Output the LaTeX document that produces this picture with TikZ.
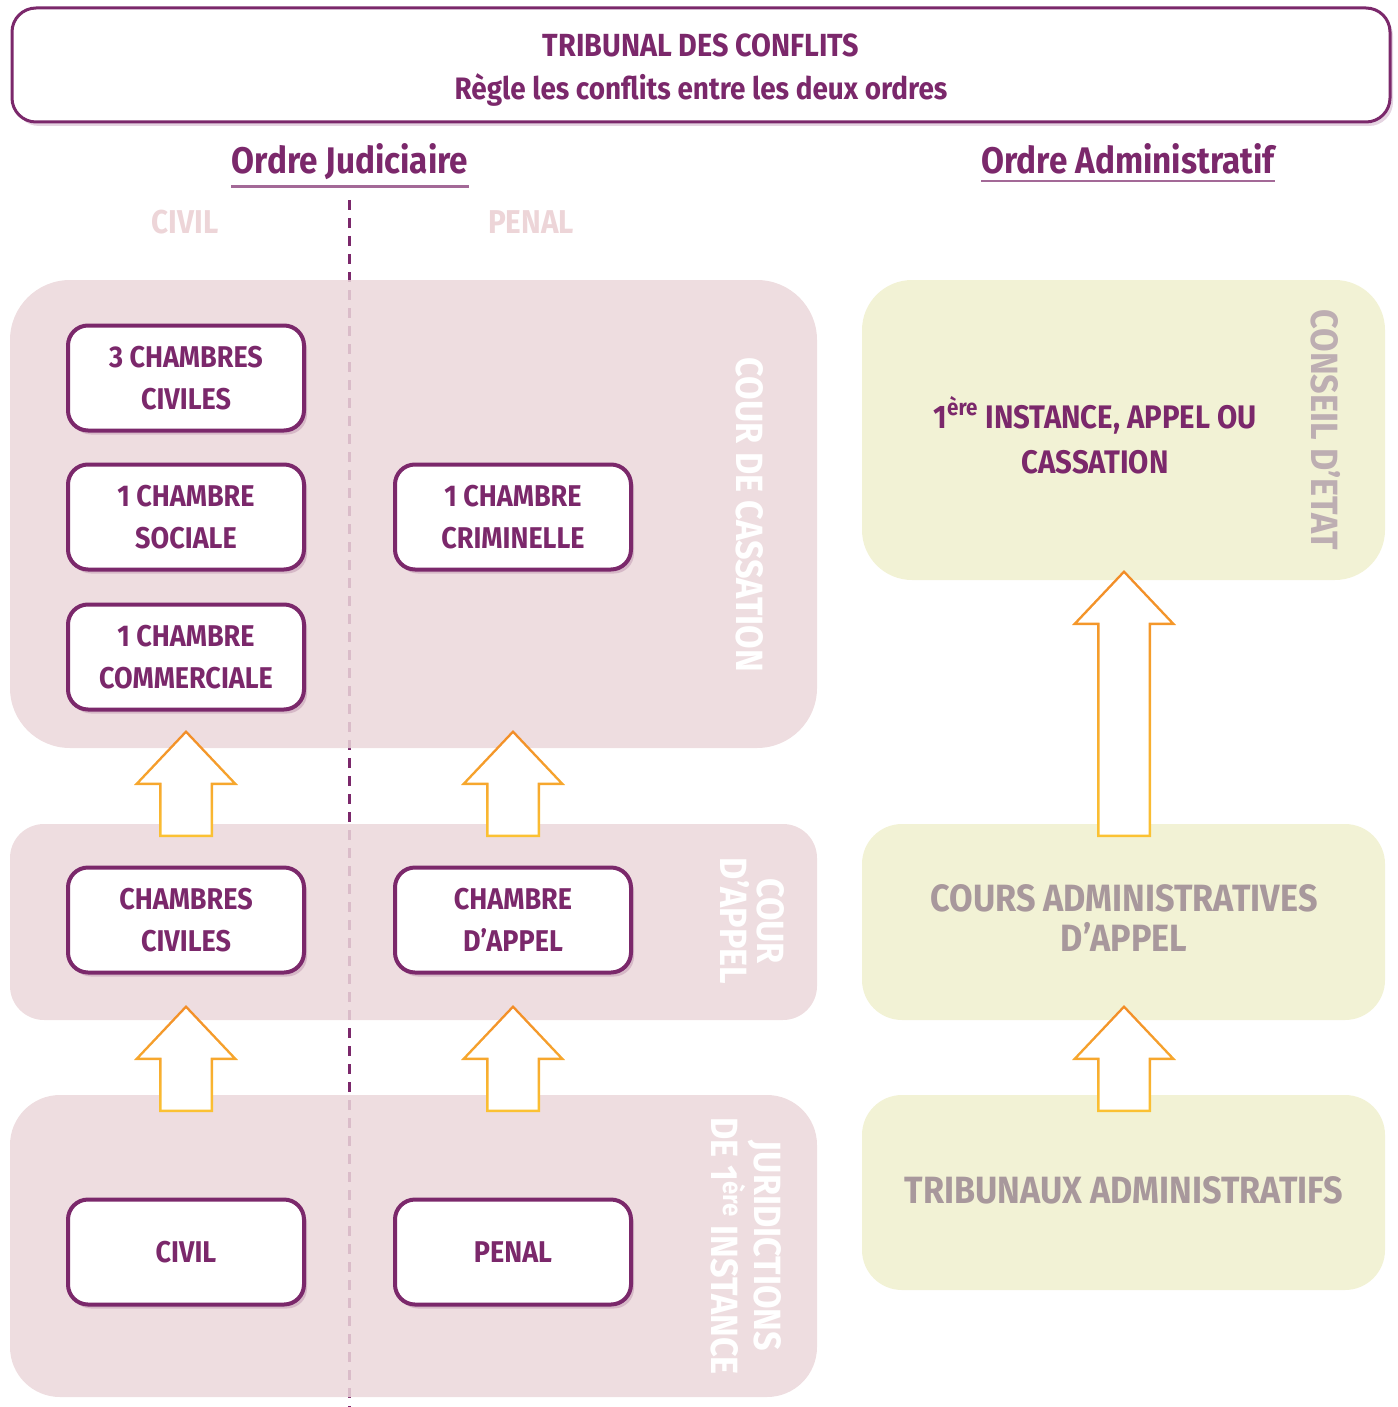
\documentclass[tikz,border=0pt]{standalone}
\usepackage{fontspec}
\setmainfont{Fira Sans}[FakeStretch=0.9]
\usepackage{tikz}
\usetikzlibrary{calc,shadows}
\newcommand\U{0.5pt}
\definecolor{prune}{HTML}{7B286B}
\definecolor{rose}{HTML}{EBD7DA}
\definecolor{rosepale}{HTML}{EDD5D8}
\definecolor{tilleul}{HTML}{F0F0CE}
\definecolor{mauve}{HTML}{A8989C}
\definecolor{mauvepale}{HTML}{BDAEB2}
\definecolor{orangef}{HTML}{F28C28}
\definecolor{jaune}{HTML}{FBC233}

% block arrow from bottom coordinate #1 up to tip #2
\newcommand\blockarrow[2]{%
  \shade[top color=orangef,bottom color=jaune] ($(#1)+(-27,0)$) -- ($(#2)+(-27,55)$) -- ($(#2)+(-52,55)$) -- (#2)
    -- ($(#2)+(52,55)$) -- ($(#2)+(27,55)$) -- ($(#1)+(27,0)$) -- cycle;
  \fill[white] ($(#1)+(-24.5,-2.5)$) -- ($(#2)+(-24.5,52.5)$) -- ($(#2)+(-46.2,52.5)$) -- ($(#2)+(0,3.6)$)
    -- ($(#2)+(46.2,52.5)$) -- ($(#2)+(24.5,52.5)$) -- ($(#1)+(24.5,-2.5)$) -- cycle;}

\begin{document}
\begin{tikzpicture}[x=\U,y=-\U,inner sep=0pt]

  \tikzstyle{panel}=[rectangle,fill opacity=.85,inner sep=0pt]
  \tikzstyle{chambre}=[rectangle,draw=prune,line width=2pt,fill=white,rounded corners=10pt,
    minimum width=236*\U,minimum height=105*\U,align=center,text=prune,
    font=\bfseries\fontsize{15}{21}\selectfont,
    drop shadow={opacity=.2,fill=prune,shadow xshift=1.5pt,shadow yshift=-2pt}]
  \tikzstyle{vlabel}=[rotate=-90,text=white,align=center,font=\bfseries\fontsize{19}{18.5}\selectfont]
  \tikzstyle{ordre}=[text=prune,font=\bfseries\fontsize{18.5}{20}\selectfont]
  \tikzstyle{colonne}=[text=rosepale,font=\bfseries\fontsize{16.5}{18}\selectfont]
  \tikzstyle{admin}=[text=mauve,align=center,font=\bfseries\fontsize{19}{20}\selectfont]

  \useasboundingbox (0,0) rectangle (1397,1407);

  \node[rectangle,draw=prune,line width=1.5pt,rounded corners=12pt,fill=white,
        minimum width=1378*\U,minimum height=114*\U,
        drop shadow={opacity=.2,fill=prune,shadow xshift=1.5pt,shadow yshift=-2pt}]
    (tc) at (701,65) {};
  \node[text=prune,align=center,font=\bfseries\fontsize{15.5}{21.5}\selectfont] (tct) at (701,70)
    {{\fontsize{16}{21.5}\selectfont TRIBUNAL DES CONFLITS}\\Règle les conflits entre les deux ordres};

  \node[ordre] (oj) at (350,162) {Ordre Judiciaire};
  \node[ordre] (oa) at (1128,159) {Ordre Administratif};
  \draw[prune!70,line width=1.2pt] ([yshift=-3pt]oj.south west) -- ([yshift=-3pt]oj.south east);
  \draw[prune!70,line width=1.2pt] ([yshift=-3pt]oa.south west) -- ([yshift=-3pt]oa.south east);
  \node[colonne] (hciv) at (185,222) {CIVIL};  \node[colonne] (hpen) at (531,222) {PENAL};

  \coordinate (septop) at (349,200); \coordinate (sepbot) at (349,1407);
  \draw[prune,line width=1.5pt,dash pattern=on 5pt off 4pt] (septop) -- (sepbot);

  % ordre judiciaire
  \node[panel,fill=rose,rounded corners=30pt,minimum width=807*\U,minimum height=468*\U] (cass) at (413.5,514) {};
  \node[panel,fill=rose,rounded corners=17pt,minimum width=807*\U,minimum height=196*\U] (appel) at (413.5,922) {};
  \node[panel,fill=rose,rounded corners=25pt,minimum width=807*\U,minimum height=302*\U] (inst) at (413.5,1246) {};

  % ordre administratif
  \node[panel,fill=tilleul,rounded corners=25pt,minimum width=523*\U,minimum height=300*\U] (ce) at (1123.5,430) {};
  \node[panel,fill=tilleul,rounded corners=20pt,minimum width=523*\U,minimum height=196*\U] (caa) at (1123.5,922) {};
  \node[panel,fill=tilleul,rounded corners=20pt,minimum width=523*\U,minimum height=195*\U] (ta) at (1123.5,1192.5) {};

  \node[vlabel] (lcass) at (750,515) {COUR DE CASSATION};
  \node[vlabel] (lappel) at (752,921) {COUR\\D’APPEL};
  \node[vlabel] (linst) at (746,1246) {JURIDICTIONS\\DE 1\textsuperscript{ère} INSTANCE};
  \node[vlabel,text=mauvepale] (lce) at (1326,430) {CONSEIL D’ETAT};

  \coordinate (a1b) at (186,837);  \coordinate (a1t) at (186,730);
  \coordinate (a2b) at (513,837);  \coordinate (a2t) at (513,730);
  \coordinate (a3b) at (186,1112); \coordinate (a3t) at (186,1005);
  \coordinate (a4b) at (513,1112); \coordinate (a4t) at (513,1005);
  \coordinate (a5b) at (1124,837); \coordinate (a5t) at (1124,570);
  \coordinate (a6b) at (1124,1112);\coordinate (a6t) at (1124,1005);
  \blockarrow{a1b}{a1t} \blockarrow{a2b}{a2t} \blockarrow{a3b}{a3t}
  \blockarrow{a4b}{a4t} \blockarrow{a5b}{a5t} \blockarrow{a6b}{a6t}

  \node[chambre] (civ3) at (186,378) {3 CHAMBRES\\CIVILES};
  \node[chambre] (soc) at (186,517) {1 CHAMBRE\\SOCIALE};   \node[chambre] (crim) at (513,517) {1 CHAMBRE\\CRIMINELLE};
  \node[chambre] (com) at (186,657) {1 CHAMBRE\\COMMERCIALE};

  \node[chambre] (cciv) at (186,920) {CHAMBRES\\CIVILES};   \node[chambre] (capp) at (513,920) {CHAMBRE\\D’APPEL};

  \node[chambre] (civ) at (186,1252) {CIVIL};              \node[chambre] (pen) at (513,1252) {PENAL};

  \node[text=prune,align=center,font=\bfseries\fontsize{16.3}{22.5}\selectfont] (tce) at (1095,435)
    {1\textsuperscript{ère} INSTANCE, APPEL OU\\CASSATION};
  \node[admin] (tcaa) at (1124,918) {COURS ADMINISTRATIVES\\D’APPEL};
  \node[admin] (tta) at (1124,1190) {TRIBUNAUX ADMINISTRATIFS};

\end{tikzpicture}
\end{document}
